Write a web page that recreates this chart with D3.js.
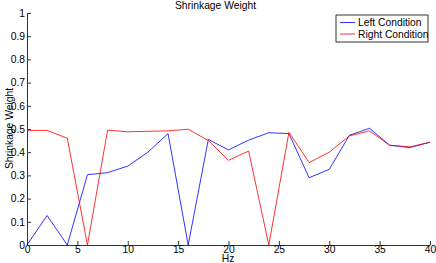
<!DOCTYPE html>
<html>
<head>
<meta charset="utf-8">
<script src="https://cdn.jsdelivr.net/npm/d3@7"></script>
<style>
  body { margin:0; background:#fff; }
  svg text { font-family: Arial, Helvetica, "Liberation Sans", sans-serif; fill:#000; }
</style>
</head>
<body>
<div id="chart"></div>
<script>
const hz = [0,2,4,6,8,10,12,14,16,18,20,22,24,26,28,30,32,34,36,38,40];
const leftCond  = [0,0.127,0,0.303,0.312,0.34,0.40,0.48,0,0.455,0.41,0.452,0.484,0.48,0.29,0.326,0.473,0.503,0.43,0.42,0.443];
const rightCond = [0.494,0.494,0.46,0,0.495,0.488,0.49,0.492,0.499,0.45,0.365,0.405,0,0.486,0.355,0.40,0.47,0.492,0.43,0.423,0.443];
const xTicks = [0,5,10,15,20,25,30,35,40];
const yTicks = [0,0.1,0.2,0.3,0.4,0.5,0.6,0.7,0.8,0.9,1];
const seriesNames = ["Left Condition","Right Condition"];
const seriesColors = ["#0000ff","#ff0000"];

const W = 436, H = 263;
const margin = {top:13, right:6, bottom:18, left:27};
const width = W - margin.left - margin.right, height = H - margin.top - margin.bottom;
const ff = "Arial, Helvetica, 'Liberation Sans', sans-serif";
const fs = 10.3;

const svg = d3.select("#chart").append("svg").attr("width",W).attr("height",H);
const g = svg.append("g").attr("transform",`translate(${margin.left},${margin.top})`);

const x = d3.scaleLinear().domain([0,40]).range([0,width]);
const y = d3.scaleLinear().domain([0,1]).range([height,0]);

// axes, ticks pointing inward
const xAxis = g.append("g").attr("transform",`translate(0,${height})`)
  .call(d3.axisBottom(x).tickValues(xTicks).tickSizeInner(-4).tickSizeOuter(0).tickFormat(d3.format("d")));
const yAxis = g.append("g")
  .call(d3.axisLeft(y).tickValues(yTicks).tickSizeInner(-4).tickSizeOuter(0).tickPadding(2).tickFormat(d=>d===0?"0":d===1?"1":d3.format(".1f")(d)));
[xAxis,yAxis].forEach(a=>{
  a.attr("font-family",ff);
  a.selectAll("path,line").attr("stroke","#333").attr("stroke-width",1);
  a.selectAll("text").attr("font-size",fs);
});
xAxis.selectAll("text").attr("y",0).attr("dy","0.74em");

const line = d3.line().x((d,i)=>x(hz[i])).y(d=>y(d));
[leftCond,rightCond].forEach((s,k)=>{
  g.append("path").datum(s).attr("d",line).attr("fill","none")
    .attr("stroke",seriesColors[k]).attr("stroke-width",1).attr("stroke-opacity",0.8);
});

// title & labels
svg.append("text").attr("x",215.5).attr("y",8.5).attr("text-anchor","middle").attr("font-size",fs).text("Shrinkage Weight");
svg.append("text").attr("x",228).attr("y",262).attr("text-anchor","middle").attr("font-size",fs).text("Hz");
svg.append("text").attr("transform",`translate(12.5,128.5) rotate(-90)`).attr("text-anchor","middle").attr("font-size",fs).text("Shrinkage Weight");

// legend
const lg = svg.append("g").attr("transform","translate(336,15)");
lg.append("rect").attr("width",92).attr("height",27).attr("fill","#fff").attr("stroke","#000").attr("stroke-width",0.8);
seriesNames.forEach((n,i)=>{
  const yy = 7.5 + i*11.5;
  lg.append("line").attr("x1",4).attr("x2",19).attr("y1",yy).attr("y2",yy).attr("stroke",seriesColors[i]).attr("stroke-opacity",0.8);
  lg.append("text").attr("x",22).attr("y",yy+3.7).attr("font-size",fs).text(n);
});
</script>
</body>
</html>
